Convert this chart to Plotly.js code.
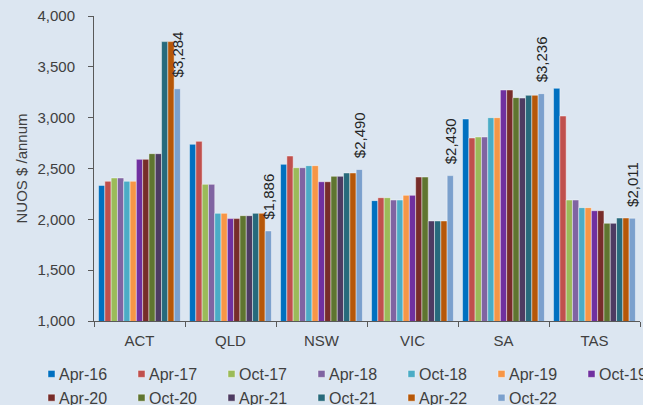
<!DOCTYPE html>
<html>
<head>
<meta charset="utf-8">
<script src="https://cdn.plot.ly/plotly-3.0.1.min.js"></script>
<style>
  html, body { margin: 0; padding: 0; background: #ffffff; overflow: hidden; }
  #wrap { width: 643px; height: 405px; overflow: hidden; position: relative; }
  #chart { width: 700px; height: 460px; }
</style>
</head>
<body>
<div id="wrap"><div id="chart"></div></div>
<script>
const categories = ['ACT', 'QLD', 'NSW', 'VIC', 'SA', 'TAS'];
const seriesNames = ['Apr-16', 'Apr-17', 'Oct-17', 'Apr-18', 'Oct-18', 'Apr-19', 'Oct-19',
                     'Apr-20', 'Oct-20', 'Apr-21', 'Oct-21', 'Apr-22', 'Oct-22'];
const seriesColors = ['#0070C0', '#C0504D', '#9BBB59', '#8064A2', '#4BACC6', '#F79646', '#7030A0',
                      '#772C2A', '#5F7530', '#4D3B62', '#276A7C', '#B65708', '#7BA0CD'];

const apr16 = [2334, 2738, 2541, 2184, 2987, 3289];
const apr17 = [2374, 2767, 2623, 2213, 2800, 3016];
const oct17 = [2407, 2344, 2508, 2213, 2810, 2190];
const apr18 = [2407, 2344, 2508, 2190, 2810, 2190];
const oct18 = [2374, 2059, 2528, 2190, 3000, 2115];
const apr19 = [2374, 2059, 2528, 2236, 3000, 2115];
const oct19 = [2590, 2007, 2370, 2236, 3272, 2085];
const apr20 = [2590, 2007, 2370, 2416, 3272, 2085];
const oct20 = [2646, 2036, 2423, 2416, 3197, 1961];
const apr21 = [2646, 2036, 2423, 1984, 3193, 1961];
const oct21 = [3748, 2059, 2456, 1984, 3220, 2013];
const apr22 = [3748, 2059, 2456, 1984, 3220, 2013];
const oct22 = [3284, 1886, 2490, 2430, 3236, 2011];

const seriesValues = [apr16, apr17, oct17, apr18, oct18, apr19, oct19,
                      apr20, oct20, apr21, oct21, apr22, oct22];

const W = 700, H = 460;
const M = { l: 94, r: 60, t: 16, b: 139 };
const plotW = W - M.l - M.r, plotH = H - M.t - M.b;
const textColor = '#404040';
const bg = '#DCE6F1';

const traces = seriesNames.map((name, i) => {
  const t = {
    type: 'bar',
    name: name,
    x: categories,
    y: seriesValues[i],
    marker: { color: seriesColors[i], line: { color: 'rgba(255,255,255,0.55)', width: 0.8 } },
    hoverinfo: 'x+y+name'
  };
  if (i === seriesNames.length - 1) {
    t.texttemplate = '\u00a0\u00a0$%{y:,.0f}';
    t.textposition = 'outside';
    t.textangle = -90;
    t.constraintext = 'none';
    t.cliponaxis = false;
    t.textfont = { family: 'Liberation Sans, Arial, sans-serif', size: 15, color: '#262626' };
  }
  return t;
});

const layout = {
  width: W,
  height: H,
  margin: M,
  paper_bgcolor: bg,
  plot_bgcolor: bg,
  font: { family: 'Liberation Sans, Arial, sans-serif', size: 15, color: textColor },
  barmode: 'group',
  bargap: 0.1,
  bargroupgap: 0,
  showlegend: true,
  xaxis: {
    type: 'category',
    showgrid: false,
    showline: true,
    linecolor: '#595959',
    linewidth: 1,
    ticks: 'outside',
    tickson: 'boundaries',
    ticklen: 5,
    tickcolor: '#595959',
    ticklabelstandoff: 6,
    tickfont: { size: 15, color: textColor },
    fixedrange: true
  },
  yaxis: {
    range: [1000, 4000],
    dtick: 500,
    tickformat: ',d',
    showgrid: false,
    zeroline: false,
    showline: true,
    linecolor: '#595959',
    linewidth: 1,
    ticks: 'outside',
    ticklen: 5,
    tickcolor: '#595959',
    ticklabelstandoff: 10,
    tickfont: { size: 15, color: textColor },
    title: { text: 'NUOS $ /annum', font: { size: 15, color: textColor }, standoff: 6 },
    fixedrange: true
  },
  legend: {
    orientation: 'h',
    xref: 'paper',
    yref: 'paper',
    x: (19 - M.l) / plotW,
    y: ((H - M.b) - 357) / plotH,
    xanchor: 'left',
    yanchor: 'top',
    bgcolor: 'rgba(0,0,0,0)',
    font: { size: 16, color: textColor },
    entrywidth: 45,
    entrywidthmode: 'pixels',
    itemwidth: 30,
    traceorder: 'normal'
  }
};

Plotly.newPlot('chart', traces, layout, { displayModeBar: false, staticPlot: true }).then(() => {
  // smaller legend swatches placed just before the label text, as in the reference
  document.querySelectorAll('#chart .legend .legendpoints path').forEach(p => {
    p.setAttribute('d', 'M16,3.5H9V-3.5H16Z');
  });
});
</script>
</body>
</html>
